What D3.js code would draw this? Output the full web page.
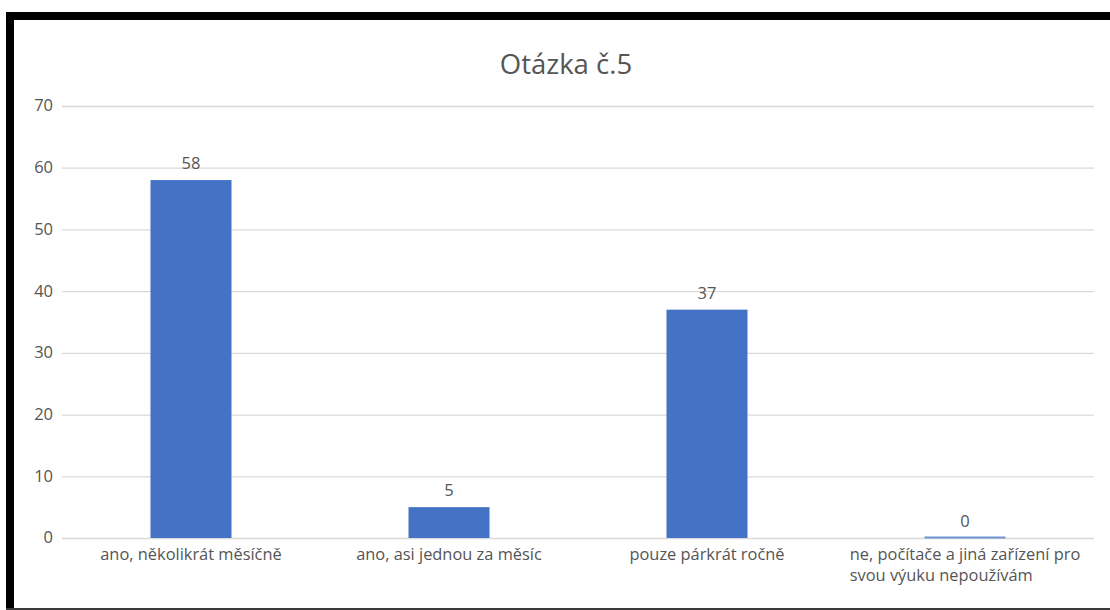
<!DOCTYPE html>
<html><head><meta charset="utf-8">
<script src="https://cdn.jsdelivr.net/npm/d3@7"></script>
<style>
html,body{margin:0;padding:0;background:#fff;}
svg{display:block;}
text{font-family:"Open Sans", Lato, sans-serif;fill:#555555;}
</style></head>
<body><svg id="c" width="1110" height="610"></svg>
<script>
const title = "Otázka č.5";
const categories = [
  ["ano, několikrát měsíčně"],
  ["ano, asi jednou za měsíc"],
  ["pouze párkrát ročně"],
  ["ne, počítače a jiná zařízení pro", "svou výuku nepoužívám"]
];
const values = [58, 5, 37, 0];
const yTicks = [0, 10, 20, 30, 40, 50, 60, 70];

const svg = d3.select("#c");
const W = 1110, H = 610;
const m = {left: 62, right: 16, top: 106, bottom: 72};
const FONT = "'Open Sans', Lato, sans-serif";

// frame
svg.append("rect").attr("x", 0).attr("y", 0).attr("width", W).attr("height", H).attr("fill", "#fff");
svg.append("rect").attr("x", 6).attr("y", 12).attr("width", W - 6).attr("height", 8).attr("fill", "#000");
svg.append("rect").attr("x", 6).attr("y", 12).attr("width", 8).attr("height", H - 12).attr("fill", "#000");
svg.append("rect").attr("x", 6).attr("y", 608).attr("width", W - 6).attr("height", 2).attr("fill", "#3a3a3a");

const x = d3.scaleBand().domain(d3.range(categories.length))
  .range([m.left, W - m.right]).paddingInner(0.686).paddingOuter(0.343);
const y = d3.scaleLinear().domain([0, 70]).range([538, m.top]);

// gridlines
const yAxis = d3.axisLeft(y).tickValues(yTicks).tickSize(-(W - m.right - m.left)).tickPadding(9);
const ga = svg.append("g").attr("transform", `translate(${m.left},0)`).call(yAxis);
ga.select(".domain").remove();
ga.selectAll(".tick line").attr("stroke", "#d9d9d9").attr("stroke-width", 1.3);
ga.selectAll(".tick text").attr("font-size", 16.5).attr("fill", "#555555")
  .style("font-family", FONT).attr("dy", "0.3em");

// title
svg.append("text").attr("x", 566).attr("y", 74).attr("text-anchor", "middle")
  .attr("font-size", 27.5).text(title);

// bars
svg.selectAll("rect.bar").data(values).join("rect").attr("class", "bar")
  .attr("x", (d, i) => x(i)).attr("width", x.bandwidth())
  .attr("y", d => y(d)).attr("height", d => y(0) - y(d))
  .attr("fill", "#4472C4");
// zero-height bars outline
svg.selectAll("line.zero").data(values.map((v, i) => i).filter(i => values[i] === 0)).join("line")
  .attr("class", "zero")
  .attr("x1", i => x(i)).attr("x2", i => x(i) + x.bandwidth())
  .attr("y1", y(0) - 0.5).attr("y2", y(0) - 0.5)
  .attr("stroke", "#6f93d4").attr("stroke-width", 2);

// data labels
svg.selectAll("text.val").data(values).join("text").attr("class", "val")
  .attr("x", (d, i) => x(i) + x.bandwidth() / 2).attr("y", d => y(d) - 11)
  .attr("text-anchor", "middle").attr("font-size", 16.5).attr("fill", "#404040")
  .text(d => d);

// category labels
categories.forEach((lines, i) => {
  const cx = x(i) + x.bandwidth() / 2;
  const g = svg.append("g");
  const ts = lines.map((l, k) => g.append("text").attr("y", 560 + k * 21)
    .attr("font-size", 16.4).text(l));
  if (lines.length === 1) {
    ts[0].attr("x", cx).attr("text-anchor", "middle");
  } else {
    const wmax = d3.max(ts.map(t => t.node().getComputedTextLength()));
    ts.forEach(t => t.attr("x", cx - wmax / 2).attr("text-anchor", "start"));
  }
});
</script></body></html>
